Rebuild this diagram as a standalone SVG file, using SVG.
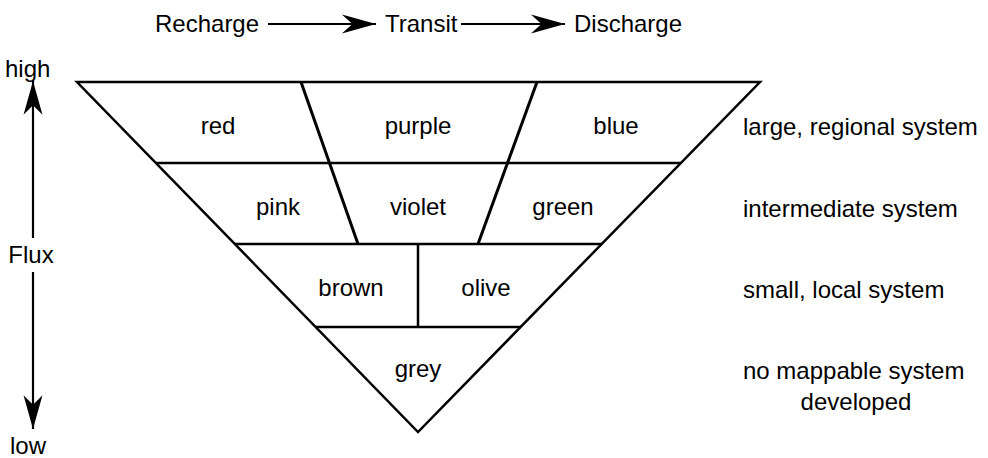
<svg xmlns="http://www.w3.org/2000/svg" width="988" height="458" viewBox="0 0 988 458">
<style>
text{font-family:"Liberation Sans",Arial,sans-serif;font-size:24px;fill:#000}
.m{text-anchor:middle}
.e{fill:none;stroke:#000;stroke-width:2.5;stroke-linejoin:miter}
.d{fill:none;stroke:#000;stroke-width:3}
.a{fill:none;stroke:#000;stroke-width:2.2}
</style>
<defs>
<marker id="ah" markerUnits="userSpaceOnUse" markerWidth="40" markerHeight="30" viewBox="-32 -12 34 24" refX="0" refY="0" orient="auto">
<path d="M0,0 L-29,-8 L-20,0 L-29,8 Z" fill="#000"/>
</marker>
<marker id="av" markerUnits="userSpaceOnUse" markerWidth="40" markerHeight="30" viewBox="-36 -12 38 24" refX="0" refY="0" orient="auto">
<path d="M0,0 L-32,-9 L-23,0 L-32,9 Z" fill="#000"/>
</marker>
</defs>
<g id="header">
<text x="155" y="32">Recharge</text>
<text x="385" y="32">Transit</text>
<text x="574" y="32">Discharge</text>
</g>
<g id="axis">
<text x="5" y="77">high</text>
<text x="31" y="263" class="m">Flux</text>
<text x="10" y="454">low</text>
</g>
<g id="connectors">
<line class="a" x1="268" y1="24" x2="376" y2="24" marker-end="url(#ah)"/>
<line class="a" x1="461" y1="24" x2="565" y2="24" marker-end="url(#ah)"/>
<line class="a" x1="33" y1="238" x2="33" y2="81" marker-end="url(#av)"/>
<line class="a" x1="33" y1="272" x2="33" y2="429" marker-end="url(#av)"/>
</g>
<g id="pyramid">
<polygon class="e" points="77,82 760,82 418,432"/>
<line class="e" x1="155.9" y1="163" x2="680.9" y2="163"/>
<line class="e" x1="234.8" y1="244" x2="601.7" y2="244"/>
<line class="e" x1="315.7" y1="327" x2="520.6" y2="327"/>
<line class="d" x1="301" y1="82" x2="358" y2="244"/>
<line class="d" x1="537" y1="82" x2="478" y2="244"/>
<line class="e" x1="418" y1="244" x2="418" y2="327"/>
</g>
<g id="node-red"><text x="218" y="134" class="m">red</text></g>
<g id="node-purple"><text x="418" y="134" class="m">purple</text></g>
<g id="node-blue"><text x="616" y="134" class="m">blue</text></g>
<g id="node-pink"><text x="278" y="215" class="m">pink</text></g>
<g id="node-violet"><text x="418" y="215" class="m">violet</text></g>
<g id="node-green"><text x="563" y="215" class="m">green</text></g>
<g id="node-brown"><text x="351" y="296" class="m">brown</text></g>
<g id="node-olive"><text x="486" y="296" class="m">olive</text></g>
<g id="node-grey"><text x="418" y="377" class="m">grey</text></g>
<g id="labels">
<text x="743" y="135">large, regional system</text>
<text x="743" y="217">intermediate system</text>
<text x="743" y="298">small, local system</text>
<text x="743" y="379">no mappable system</text>
<text x="856" y="410" class="m">developed</text>
</g>
</svg>
